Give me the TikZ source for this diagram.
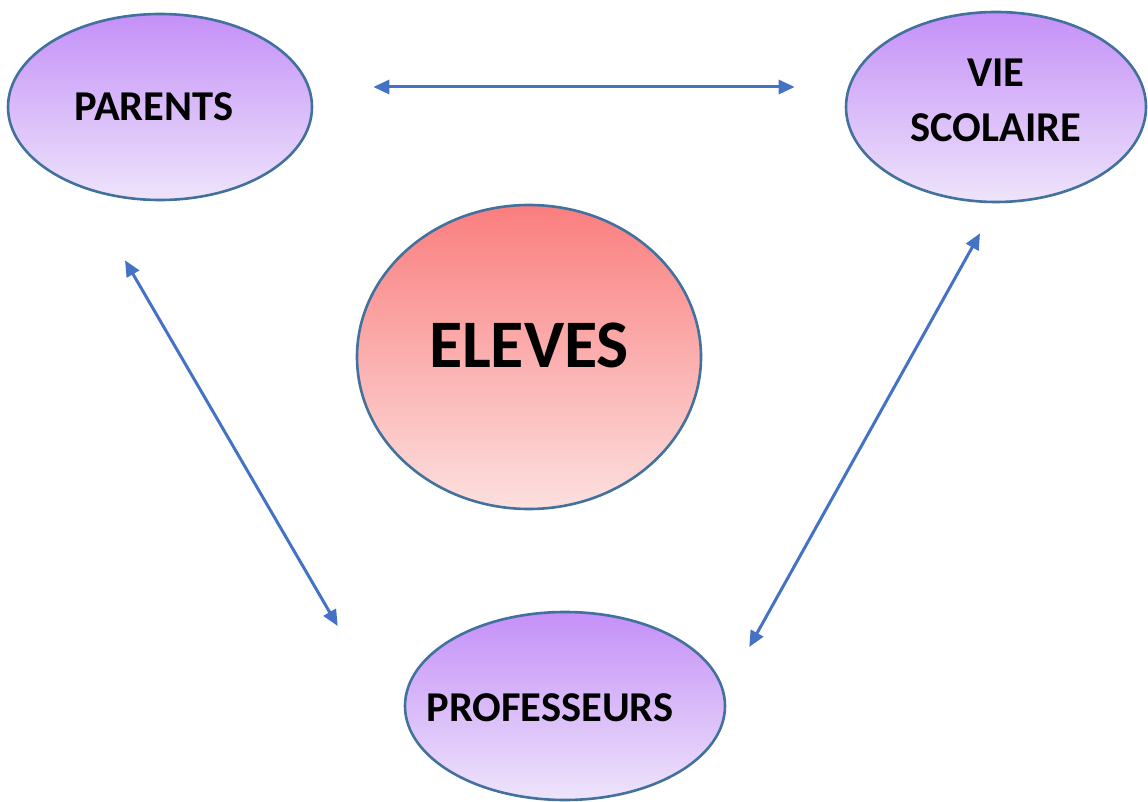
\documentclass[tikz,border=0pt]{standalone}
\usepackage{fontspec}
\setmainfont{Carlito}
\usetikzlibrary{shapes.geometric, arrows.meta, positioning, calc}
\definecolor{edge}{HTML}{41719C}
\definecolor{link}{HTML}{4472C4}
\definecolor{lilactop}{HTML}{C490F7}
\definecolor{lilacbot}{HTML}{EEE4FB}
\definecolor{rosetop}{HTML}{FA7E7E}
\definecolor{rosebot}{HTML}{FCE0DF}

\begin{document}
\begin{tikzpicture}[
    x=1pt, y=1pt,
    bubble/.style={ellipse, draw=edge, line width=2.6pt, inner sep=0pt,
                   top color=#1top, bottom color=#1bot},
    lbl/.style={font=\bfseries\fontsize{42.5}{55}\selectfont, align=center, inner sep=0pt},
    arrow/.style={{Triangle[length=16pt, width=14pt]}-{Triangle[length=16pt, width=14pt]},
                  line width=3pt, color=link}
]
\useasboundingbox (0,0) rectangle (1148,801);

\node[bubble=lilac, minimum width=304, minimum height=186] (par) at (160,694) {};
\node[bubble=lilac, minimum width=300, minimum height=190] (vie) at (996,694) {};
\node[bubble=rose, minimum width=344, minimum height=304] (ele) at (529,444) {};
\node[bubble=lilac, minimum width=320, minimum height=188] (prof) at (565,95) {};

\node[lbl] (parT) at ([shift={(-6,0)}]par.center) {PARENTS};
\node[lbl] (vieT) at ([shift={(0,7)}]vie.center) {VIE\\SCOLAIRE};
\node[lbl, font=\bfseries\fontsize{68}{70}\selectfont] (eleT) at ([shift={(0,12)}]ele.center) {ELEVES};
\node[lbl] (profT) at ([shift={(-15,-2)}]prof.center) {PROFESSEURS};

% liens
\draw[arrow] ([shift={(60,20)}]par.east) -- ([shift={(-50,20)}]vie.west);
\draw[arrow] ([shift={(-35,-59)}]par.south) -- ([shift={(-66,80)}]prof.west);
\draw[arrow] ([shift={(-16,-30)}]vie.south) -- ([shift={(23,59)}]prof.east);

\end{tikzpicture}
\end{document}
